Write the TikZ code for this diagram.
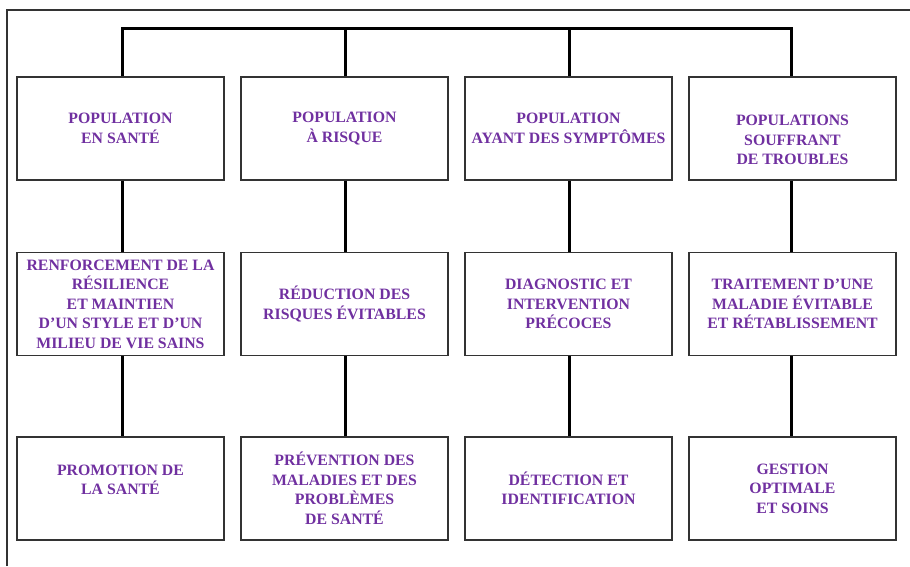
\documentclass[tikz,border=0pt]{standalone}
\usepackage{fontspec}
\setmainfont{Liberation Serif}
\definecolor{txtpurple}{HTML}{7030A0}
\definecolor{boxline}{HTML}{333333}
\begin{document}
\begin{tikzpicture}[x=1pt,y=-1pt,
  box/.style={draw=boxline,line width=1.4pt,minimum width=207pt,minimum height=103pt,
    inner sep=0pt,align=center,text=txtpurple,
    font=\fontsize{15.8}{19.5}\selectfont\bfseries},
  conn/.style={line width=3pt},
  frameline/.style={draw=boxline,line width=1.4pt}]
\useasboundingbox (0,0) rectangle (910,566);
\draw[frameline] (7,566) -- (7,10) -- (910,10);
% row 1
\node[box] (a1) at (120.5,128.5) {POPULATION\\EN SANTÉ};
\node[box] (a2) at (344.5,128.5) {POPULATION\\À RISQUE};
\node[box] (a3) at (568.5,128.5) {POPULATION\\AYANT DES SYMPTÔMES};
\node[box] (a4) at (792.5,128.5) {\mbox{}\\[14pt]POPULATIONS\\SOUFFRANT\\DE TROUBLES};
% row 2
\node[box] (b1) at (120.5,304) {RENFORCEMENT DE LA\\RÉSILIENCE\\ET MAINTIEN\\D’UN STYLE ET D’UN\\MILIEU DE VIE SAINS};
\node[box] (b2) at (344.5,304) {RÉDUCTION DES\\RISQUES ÉVITABLES};
\node[box] (b3) at (568.5,304) {DIAGNOSTIC ET\\INTERVENTION\\PRÉCOCES};
\node[box] (b4) at (792.5,304) {TRAITEMENT D’UNE\\MALADIE ÉVITABLE\\ET RÉTABLISSEMENT};
% row 3
\node[box] (c1) at (120.5,488.5) {PROMOTION DE\\LA SANTÉ\\[-2pt]\mbox{}};
\node[box] (c2) at (344.5,488.5) {PRÉVENTION DES\\MALADIES ET DES\\PROBLÈMES\\DE SANTÉ};
\node[box] (c3) at (568.5,488.5) {DÉTECTION ET\\IDENTIFICATION};
\node[box] (c4) at (792.5,488.5) {GESTION\\OPTIMALE\\ET SOINS};
% bus
\coordinate (bus1) at (122.5,28.5);
\coordinate (bus2) at (345,28.5);
\coordinate (bus3) at (569,28.5);
\coordinate (bus4) at (791.5,28.5);
\draw[conn] (bus1 |- a1.north) -- (bus1) -- (bus4) -- (bus4 |- a4.north);
\draw[conn] (bus2) -- (bus2 |- a2.north);
\draw[conn] (bus3) -- (bus3 |- a3.north);
% verticals
\foreach \i/\c in {1/bus1,2/bus2,3/bus3,4/bus4}{
  \draw[conn] (\c |- a\i.south) -- (\c |- b\i.north);
  \draw[conn] (\c |- b\i.south) -- (\c |- c\i.north);
}
\end{tikzpicture}
\end{document}
